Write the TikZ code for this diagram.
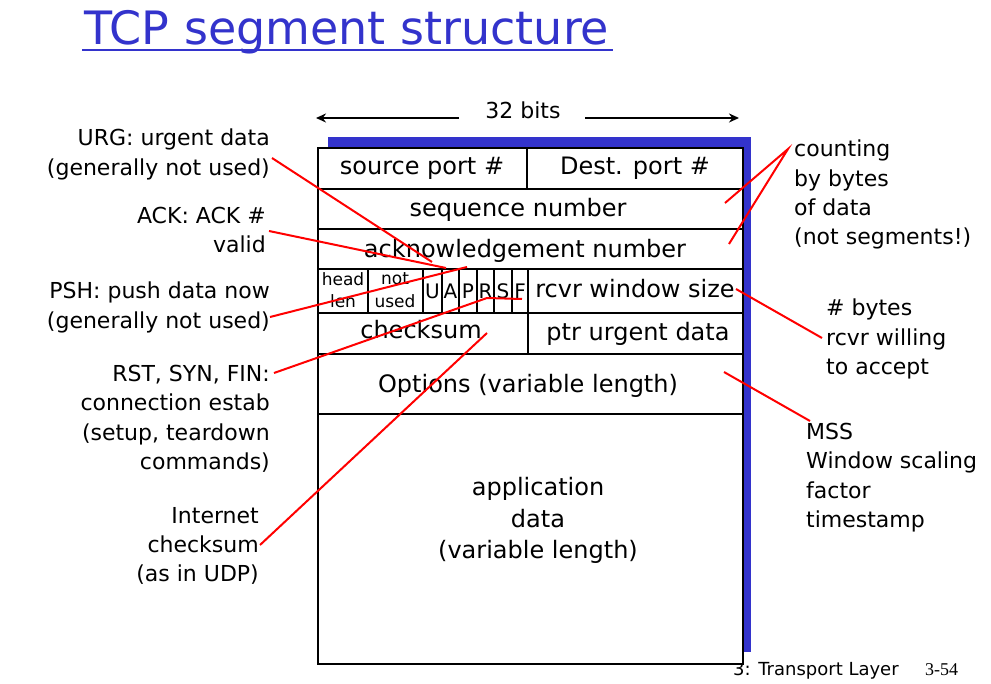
\documentclass[tikz,border=0pt]{standalone}
\usepackage{fontspec}
\setmainfont{DejaVu Sans}
\newfontfamily\pagefont{Liberation Serif}
\usetikzlibrary{arrows.meta}
\definecolor{slideblue}{RGB}{51,51,204}
\begin{document}
\begin{tikzpicture}[x=1pt,y=-1pt,
  boxtxt/.style={font=\fontsize{24}{29}\selectfont, anchor=base, inner sep=0pt},
  smalltxt/.style={font=\fontsize{17}{19}\selectfont, anchor=base, inner sep=0pt},
  flagtxt/.style={font=\fontsize{20}{22}\selectfont, anchor=base, inner sep=0pt},
  leftlbl/.style={font=\fontsize{22}{29.3}\selectfont, align=right, anchor=north east, inner sep=0pt},
  rightlbl/.style={font=\fontsize{22}{29.3}\selectfont, align=left, anchor=north west, inner sep=0pt},
  frame/.style={draw=black, line width=2.2pt},
  redline/.style={draw=red, line width=2pt},
  bitarrow/.style={draw=black, line width=2pt, -{Stealth[length=10pt,width=9pt]}}
]
\useasboundingbox (0,0) rectangle (991,684);
\fill[white] (0,0) rectangle (991,684);

% title
\node[font=\fontsize{46}{50}\selectfont, text=slideblue, anchor=base west, inner sep=0pt] (title) at (84,45) {TCP segment structure};
\draw[slideblue, line width=2.4pt] (82,50) -- (613,50);

% footer
\node[font=\fontsize{18}{20}\selectfont, anchor=base west, inner sep=0pt] (foot) at (733,675) {3: Transport Layer};
\node[font=\pagefont\fontsize{18}{20}\selectfont, anchor=base west, inner sep=0pt] (pagenum) at (925,675) {3-54};

% 32 bits
\node[font=\fontsize{22}{24}\selectfont, anchor=base, inner sep=0pt] (bits) at (523,119) {32 bits};
\coordinate (bl) at (459,118);
\coordinate (blend) at (316,118);
\coordinate (br) at (585,118);
\coordinate (brend) at (739,118);
\draw[bitarrow] (bl) -- (blend);
\draw[bitarrow] (br) -- (brend);

% shadow and frame
\fill[slideblue] (328,137) rectangle (751,652);
\filldraw[fill=white, frame] (318,148) rectangle (743,664);
\foreach \yy in {189,229,269,313,354,414} {
  \draw[frame] (318,\yy) -- (743,\yy);
}
\draw[frame] (527,148) -- (527,189);
\draw[frame] (528,269) -- (528,354);
\foreach \xx in {368,423,442,459,477,494,512} {
  \draw[frame] (\xx,269) -- (\xx,313);
}

% field texts
\node[boxtxt] (src) at (422,175) {source port \#};
\node[boxtxt] (dst) at (635,175) {Dest. port \#};
\node[boxtxt] (seq) at (518,217) {sequence number};
\node[boxtxt] (ack) at (525,258) {acknowledgement number};
\node[smalltxt] (hl1) at (343,286) {head};
\node[smalltxt] (hl2) at (343,308) {len};
\node[smalltxt] (nu1) at (395,285) {not};
\node[smalltxt] (nu2) at (395,308) {used};
\node[flagtxt] (fu) at (432.5,299) {U};
\node[flagtxt] (fa) at (450.5,299) {A};
\node[flagtxt] (fp) at (468,299) {P};
\node[flagtxt] (fr) at (485.5,299) {R};
\node[flagtxt] (fs) at (503,299) {S};
\node[flagtxt] (ff) at (520,299) {F};
\node[boxtxt] (win) at (635,298) {rcvr window size};
\node[boxtxt] (cks) at (421,339) {checksum};
\node[boxtxt] (urgp) at (638,341) {ptr urgent data};
\node[boxtxt] (opt) at (528,393) {Options (variable length)};
\node[boxtxt] (app1) at (538,496) {application};
\node[boxtxt] (app2) at (538,527) {data};
\node[boxtxt] (app3) at (538,558) {(variable length)};

% left labels
\node[leftlbl] (urg) at (270,129) {URG: urgent data\\(generally not used)};
\node[leftlbl] (ackl) at (266,207) {ACK: ACK \#\\valid};
\node[leftlbl] (psh) at (270,282) {PSH: push data now\\(generally not used)};
\node[leftlbl] (rst) at (270,365) {RST, SYN, FIN:\\connection estab\\(setup, teardown\\commands)};
\node[leftlbl] (inet) at (259,507) {Internet\\checksum\\(as in UDP)};

% right labels
\node[rightlbl] (cnt) at (794,140) {counting\\by bytes\\of data\\(not segments!)};
\node[rightlbl] (nby) at (826,299) {\# bytes\\rcvr willing\\to accept};
\node[rightlbl] (mss) at (806,423) {MSS\\Window scaling\\factor\\timestamp};

% connector end points
\coordinate (urgS) at (272,158);  \coordinate (urgE) at (432,262);
\coordinate (ackS) at (269,231);  \coordinate (ackE) at (446,268);
\coordinate (pshS) at (270,317);  \coordinate (pshE) at (467,267);
\coordinate (rstS) at (274,373);  \coordinate (rstM) at (487,298); \coordinate (rstE) at (522,299);
\coordinate (inetS) at (260,545); \coordinate (inetE) at (487,333);
\coordinate (cntA) at (788,149);  \coordinate (cntE1) at (725,203); \coordinate (cntE2) at (729,244);
\coordinate (winS) at (736,289);  \coordinate (winE) at (822,338);
\coordinate (optS) at (724,372);  \coordinate (optE) at (810,421);

\draw[redline] (urgS) -- (urgE);
\draw[redline] (ackS) -- (ackE);
\draw[redline] (pshS) -- (pshE);
\draw[redline] (rstS) -- (rstM) -- (rstE);
\draw[redline] (inetS) -- (inetE);
\draw[redline] (cntE1) -- (cntA) -- (cntE2);
\draw[redline] (winS) -- (winE);
\draw[redline] (optS) -- (optE);
\end{tikzpicture}
\end{document}
